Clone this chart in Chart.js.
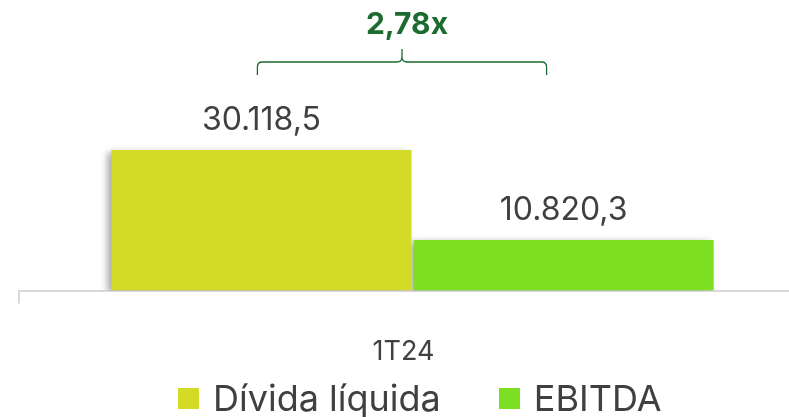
<!DOCTYPE html>
<html>
<head>
<meta charset="utf-8">
<script src="https://cdn.jsdelivr.net/npm/chart.js@4"></script>
<style>
  html, body { margin: 0; padding: 0; background: #fff; }
  #wrap { width: 789px; height: 417px; overflow: hidden; position: relative; }
  #box { width: 806px; height: 417px; position: absolute; left: 0; top: 0; }
  #legend {
    position: absolute; left: 178px; top: 378px; height: 40px;
    display: flex; align-items: center;
    font: 400 36px Inter, "Noto Sans", sans-serif; color: #404040;
    line-height: 40px; white-space: nowrap;
  }
  #legend .item { display: flex; align-items: center; margin-right: 58px; }
  #legend .swatch { width: 21px; height: 21px; margin-right: 14px; }
</style>
</head>
<body>
<div id="wrap">
  <div id="box"><canvas id="chart"></canvas></div>
  <div id="legend"></div>
</div>
<script>
const categories = ['1T24'];
const seriesNames = ['Dívida líquida', 'EBITDA'];
const dividaLiquida = [30118.5];
const ebitda = [10820.3];

const barColors = ['#d4db26', '#7ddf22'];
const textGray = '#404040';
const darkGreen = '#1d6b30';
const fontFamily = 'Inter, "Noto Sans", sans-serif';

// 30118.5 -> "30.118,5"
function fmtBR(v, dec) {
  const parts = v.toFixed(dec).split('.');
  parts[0] = parts[0].replace(/\B(?=(\d{3})+(?!\d))/g, '.');
  return parts.join(',');
}

// soft drop shadow behind the bars
const barShadow = {
  id: 'barShadow',
  beforeDatasetsDraw(chart) {
    const ctx = chart.ctx;
    ctx.save();
    ctx.shadowColor = 'rgba(0,0,0,0.35)';
    ctx.shadowBlur = 7;
    ctx.shadowOffsetX = -4;
    ctx.shadowOffsetY = 2;
  },
  afterDatasetsDraw(chart) {
    chart.ctx.restore();
  }
};

// value labels above each bar + the ratio brace on top
const valueLabels = {
  id: 'valueLabels',
  afterDraw(chart) {
    const ctx = chart.ctx;
    ctx.save();
    ctx.font = '400 32px ' + fontFamily;
    ctx.fillStyle = textGray;
    ctx.textAlign = 'center';
    ctx.textBaseline = 'alphabetic';
    const bars = [];
    chart.data.datasets.forEach((ds, i) => {
      const meta = chart.getDatasetMeta(i);
      meta.data.forEach((bar, j) => {
        ctx.fillText(fmtBR(ds.data[j], 1), bar.x, bar.y - 20);
        bars.push(bar);
      });
    });

    // brace between the two bars
    const x1 = bars[0].x - 4, x2 = bars[1].x - 17;
    const xm = (x1 + x2) / 2;
    const yl = 62, r = 5;
    ctx.strokeStyle = darkGreen;
    ctx.lineWidth = 1.3;
    ctx.beginPath();
    ctx.moveTo(x1, yl + 13);
    ctx.lineTo(x1, yl + r);
    ctx.quadraticCurveTo(x1, yl, x1 + r, yl);
    ctx.lineTo(xm - r, yl);
    ctx.quadraticCurveTo(xm, yl, xm, yl - r);
    ctx.lineTo(xm, yl - 13);
    ctx.moveTo(xm, yl - r);
    ctx.quadraticCurveTo(xm, yl, xm + r, yl);
    ctx.lineTo(x2 - r, yl);
    ctx.quadraticCurveTo(x2, yl, x2, yl + r);
    ctx.lineTo(x2, yl + 13);
    ctx.stroke();

    const ratio = dividaLiquida[0] / ebitda[0];
    ctx.font = '700 30px ' + fontFamily;
    ctx.fillStyle = darkGreen;
    ctx.fillText(ratio.toFixed(2).replace('.', ',') + 'x', xm + 5, 34);
    ctx.restore();
  }
};

// legend row under the chart
const legendEl = document.getElementById('legend');
seriesNames.forEach((name, i) => {
  const item = document.createElement('div');
  item.className = 'item';
  const sw = document.createElement('span');
  sw.className = 'swatch';
  sw.style.background = barColors[i];
  const txt = document.createElement('span');
  txt.textContent = name;
  item.appendChild(sw);
  item.appendChild(txt);
  legendEl.appendChild(item);
});

new Chart(document.getElementById('chart'), {
  type: 'bar',
  data: {
    labels: categories,
    datasets: [
      { label: seriesNames[0], data: dividaLiquida, backgroundColor: barColors[0] },
      { label: seriesNames[1], data: ebitda, backgroundColor: barColors[1] }
    ]
  },
  options: {
    responsive: true,
    maintainAspectRatio: false,
    animation: false,
    layout: { padding: { left: 19, right: 0, top: 57, bottom: 17 } },
    datasets: {
      bar: { categoryPercentage: 0.768, barPercentage: 0.993 }
    },
    scales: {
      x: {
        border: { display: true, color: '#d9d9d9', width: 2 },
        grid: { display: true, drawOnChartArea: false, drawTicks: true, tickLength: 13, color: '#d9d9d9', lineWidth: 2 },
        ticks: { color: textGray, font: { family: fontFamily, size: 27 }, padding: 32, labelOffset: -9 }
      },
      y: { display: false, min: 0, max: 50000 }
    },
    plugins: {
      legend: { display: false },
      tooltip: { enabled: false }
    }
  },
  plugins: [barShadow, valueLabels]
});
</script>
</body>
</html>
